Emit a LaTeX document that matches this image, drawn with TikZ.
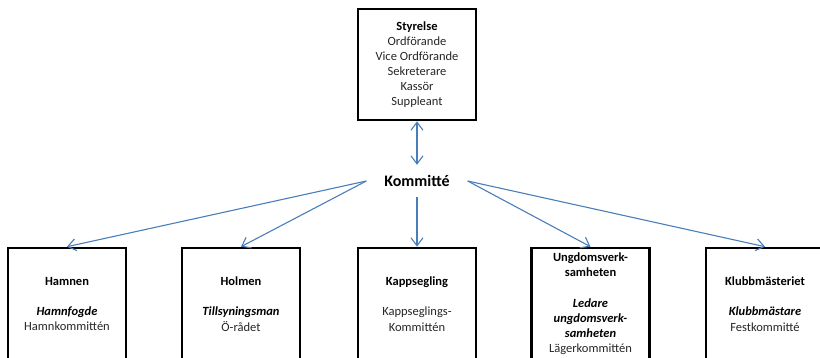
\documentclass[tikz,border=0pt]{standalone}
\usepackage{fontspec}
\setmainfont{Carlito}
\usetikzlibrary{arrows.meta}
\definecolor{arrowblue}{HTML}{4A7EBB}
\definecolor{txt}{HTML}{262626}
\begin{document}
\begin{tikzpicture}[x=1pt,y=-1pt,
  box/.style={draw=black, line width=2.6pt, minimum width=118pt, minimum height=112pt,
    inner sep=0pt, align=center, text=txt, font=\fontsize{12.5}{15.2}\selectfont},
  hub/.style={minimum width=101pt, minimum height=32pt, inner sep=0pt, text=black,
    font=\bfseries\fontsize{16}{19}\selectfont},
  conn/.style={draw=arrowblue, line width=1.1pt, -{Straight Barb[length=8pt,width=12pt]}},
  dconn/.style={draw=arrowblue, line width=1.1pt, {Straight Barb[length=8pt,width=12pt]}-{Straight Barb[length=8pt,width=12pt]}}
]
\useasboundingbox (0,0) rectangle (820,357);
\clip (0,0) rectangle (820,357);
\node[box, minimum height=111pt, font=\fontsize{12.5}{15}\selectfont] (styr) at (417,64.5)
  {\raisebox{-5pt}{\begin{tabular}{@{}c@{}}\textbf{\textcolor{black}{Styrelse}}\\Ordförande\\Vice Ordförande\\Sekreterare\\Kassör\\Suppleant\end{tabular}}};
\node[hub] (k) at (417,181) {Kommitté};
\node[box] (hamn) at (67,304)
  {\textbf{\textcolor{black}{Hamnen}}\\[15.2pt]\textbf{\textit{\textcolor{black}{Hamnfogde}}}\\Hamnkommittén};
\node[box] (holm) at (241,304)
  {\textbf{\textcolor{black}{Holmen}}\\[15.2pt]\textbf{\textit{\textcolor{black}{Tillsyningsman}}}\\Ö-rådet};
\node[box] (kapp) at (417,304)
  {\textbf{\textcolor{black}{Kappsegling}}\\[15.2pt]Kappseglings-\\Kommittén};
\node[box] (ung) at (590.5,304)
  {\textbf{\textcolor{black}{Ungdomsverk-}}\\\textbf{\textcolor{black}{samheten}}\\[15.2pt]\textbf{\textit{\textcolor{black}{Ledare}}}\\\textbf{\textit{\textcolor{black}{ungdomsverk-}}}\\\textbf{\textit{\textcolor{black}{samheten}}}\\Lägerkommittén};
\node[box] (klubb) at (765,304)
  {\textbf{\textcolor{black}{Klubbmästeriet}}\\[15.2pt]\textbf{\textit{\textcolor{black}{Klubbmästare}}}\\Festkommitté};
\draw[dconn] (styr.south) -- (k.north);
\draw[conn] (k.west) -- (hamn.north);
\draw[conn] (k.west) -- (holm.north);
\draw[conn] (k.south) -- (kapp.north);
\draw[conn] (k.east) -- (ung.north);
\draw[conn] (k.east) -- (klubb.north);
\end{tikzpicture}
\end{document}
